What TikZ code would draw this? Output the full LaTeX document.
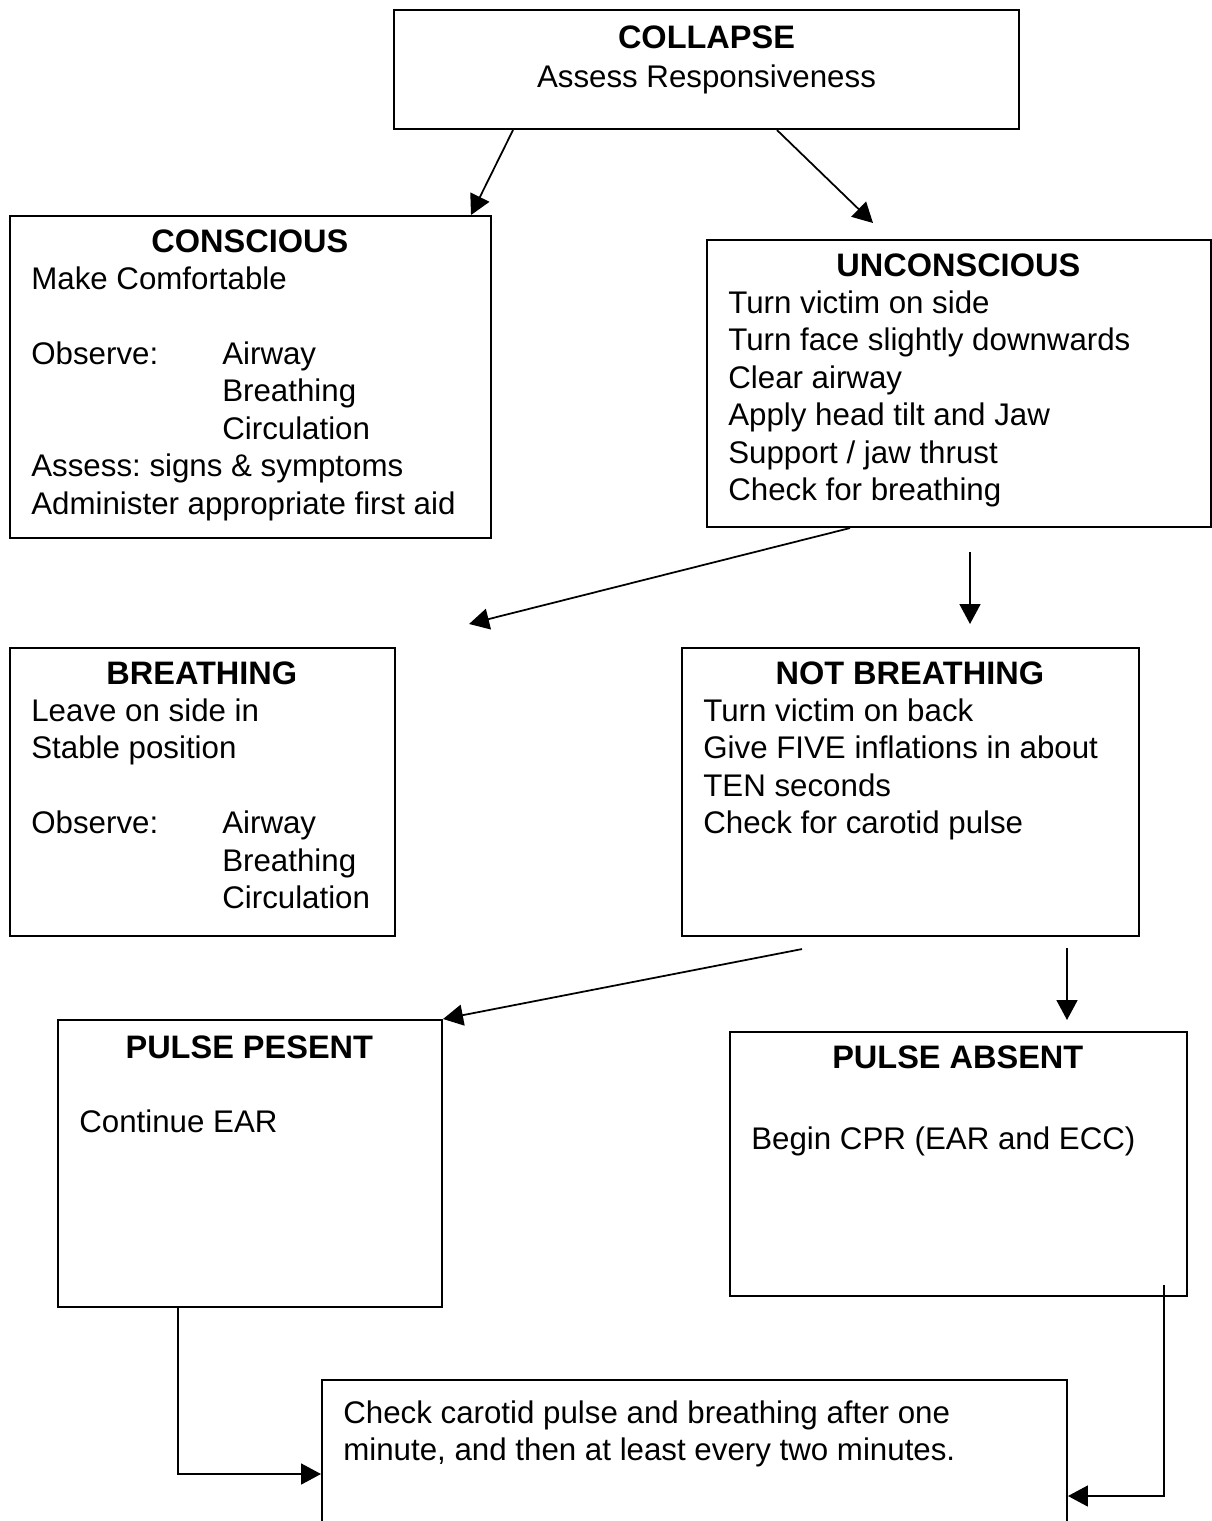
\documentclass[tikz,border=0pt]{standalone}
\usepackage{fontspec}
\setmainfont{Liberation Sans}
\usetikzlibrary{arrows.meta}
\frenchspacing
\newcommand{\titlefont}{\fontsize{18.5}{21.3}\selectfont\bfseries}

\begin{document}
\begin{tikzpicture}[
  x=0.02cm, y=-0.02cm,
  font=\fontsize{17.8}{21.3}\selectfont,
  frame/.style={draw, line width=1.2pt, anchor=north west, inner sep=0pt},
  txt/.style={anchor=north west, inner sep=0pt, align=flush left},
  arrow/.style={-{Triangle[length=0.4cm, width=0.42cm]}, line width=1pt}
]
\useasboundingbox (0,0) rectangle (1212,1521);
\clip (0,0) rectangle (1212,1521);

% boxes
\node[frame, minimum width=12.5cm, minimum height=2.38cm] (collapse) at (393,9) {};
\node[frame, minimum width=9.62cm, minimum height=6.44cm] (conscious) at (9,215) {};
\node[frame, minimum width=10.08cm, minimum height=5.74cm] (unconscious) at (706,239) {};
\node[frame, minimum width=7.7cm, minimum height=5.76cm] (breathing) at (9,647) {};
\node[frame, minimum width=9.14cm, minimum height=5.76cm] (notbreathing) at (681,647) {};
\node[frame, minimum width=7.68cm, minimum height=5.74cm] (present) at (57,1019) {};
\node[frame, minimum width=9.14cm, minimum height=5.28cm] (absent) at (729,1031) {};
\node[frame, minimum width=14.9cm, minimum height=6cm] (check) at (321,1379) {};

% texts
\node[txt, anchor=north, align=center] (collapsetxt) at ([shift={(0,16)}]collapse.north)
  {{\titlefont COLLAPSE}\\[1.4pt]Assess Responsiveness};
\node[txt, text width=8.74cm] (conscioustxt) at ([shift={(22,14)}]conscious.north west)
  {\makebox[\hsize]{\titlefont CONSCIOUS}\\
   Make Comfortable\\[\baselineskip]
   \makebox[3.82cm][l]{Observe:}Airway\\
   \hspace*{3.82cm}Breathing\\
   \hspace*{3.82cm}Circulation\\
   Assess: signs \& symptoms\\
   Administer appropriate first aid};
\node[txt, text width=9.2cm] (unconscioustxt) at ([shift={(22,14)}]unconscious.north west)
  {\makebox[\hsize]{\titlefont UNCONSCIOUS}\\
   Turn victim on side\\
   Turn face slightly downwards\\
   Clear airway\\
   Apply head tilt and Jaw\\
   Support / jaw thrust\\
   Check for breathing};
\node[txt, text width=6.82cm] (breathingtxt) at ([shift={(22,14)}]breathing.north west)
  {\makebox[\hsize]{\titlefont BREATHING}\\
   Leave on side in\\
   Stable position\\[\baselineskip]
   \makebox[3.82cm][l]{Observe:}Airway\\
   \hspace*{3.82cm}Breathing\\
   \hspace*{3.82cm}Circulation};
\node[txt, text width=8.26cm] (notbreathingtxt) at ([shift={(22,14)}]notbreathing.north west)
  {\makebox[\hsize]{\titlefont NOT BREATHING}\\
   Turn victim on back\\
   Give FIVE inflations in about\\
   TEN seconds\\
   Check for carotid pulse};
\node[txt, text width=6.8cm] (presenttxt) at ([shift={(22,16)}]present.north west)
  {\makebox[\hsize]{\titlefont PULSE PESENT}\\[\baselineskip]
   Continue EAR};
\node[txt, text width=8.26cm] (absenttxt) at ([shift={(22,14)}]absent.north west)
  {\makebox[\hsize]{\titlefont PULSE ABSENT}\\[25pt]
   Begin CPR (EAR and ECC)};
\node[txt, text width=14.02cm] (checktxt) at ([shift={(22,21)}]check.north west)
  {Check carotid pulse and breathing after one\\
   minute, and then at least every two minutes.};

% connectors
\coordinate (toleft) at ([shift={(73,-23)}]breathing.north east);
\coordinate (downA) at ([shift={(264,24)}]unconscious.south west);
\coordinate (downB) at ([shift={(289,-23)}]notbreathing.north west);
\coordinate (fromnb) at ([shift={(121,12)}]notbreathing.south west);
\coordinate (downC) at ([shift={(386,11)}]notbreathing.south west);
\draw[arrow] ([shift={(120,0)}]collapse.south west) -- ([shift={(-21,0)}]conscious.north east);
\draw[arrow] ([shift={(384,0)}]collapse.south west) -- ([shift={(167,-16)}]unconscious.north west);
\draw[arrow] ([shift={(144,0)}]unconscious.south west) -- (toleft);
\draw[arrow] (downA) -- (downB);
\draw[arrow] (fromnb) -- (present.north east);
\draw[arrow] (downC) -- ([shift={(338,-11)}]absent.north west);
\draw[arrow] ([shift={(121,0)}]present.south west) |- ([shift={(0,95)}]check.north west);
\draw[arrow] ([shift={(-24,-12)}]absent.south east) |- ([shift={(0,117)}]check.north east);
\end{tikzpicture}
\end{document}
